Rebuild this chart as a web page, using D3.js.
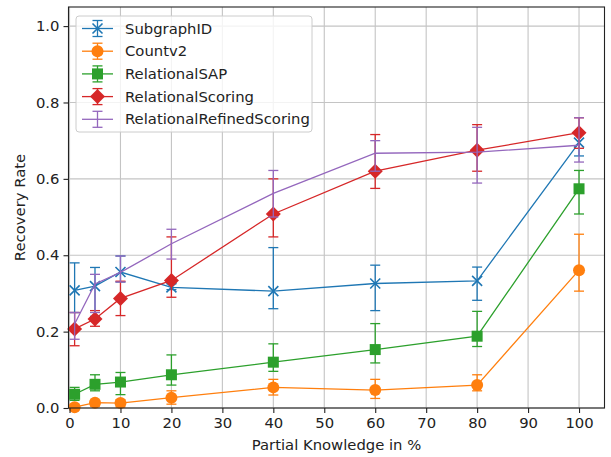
<!DOCTYPE html>
<html><head><meta charset="utf-8">
<script src="https://cdn.jsdelivr.net/npm/d3@7"></script>
<style>body{margin:0;background:#fff}svg{display:block}text{font-family:"DejaVu Sans",sans-serif}</style>
</head><body>
<script>
const xValues = [1, 5, 10, 20, 40, 60, 80, 100];
const xTicks = [0, 10, 20, 30, 40, 50, 60, 70, 80, 90, 100];
const yTicks = [0, 0.2, 0.4, 0.6, 0.8, 1.0];

const subgraphMean = [0.308, 0.319, 0.356, 0.316, 0.306, 0.326, 0.333, 0.695];
const subgraphLo   = [0.250, 0.240, 0.330, 0.310, 0.260, 0.255, 0.282, 0.660];
const subgraphHi   = [0.380, 0.368, 0.398, 0.325, 0.420, 0.374, 0.369, 0.720];

const countMean = [0.002, 0.014, 0.013, 0.027, 0.054, 0.047, 0.060, 0.361];
const countLo   = [0.000, 0.005, 0.003, 0.010, 0.034, 0.025, 0.045, 0.306];
const countHi   = [0.010, 0.020, 0.022, 0.045, 0.075, 0.075, 0.087, 0.455];

const sapMean = [0.036, 0.062, 0.068, 0.087, 0.120, 0.153, 0.188, 0.574];
const sapLo   = [0.020, 0.045, 0.035, 0.060, 0.096, 0.118, 0.161, 0.508];
const sapHi   = [0.054, 0.087, 0.093, 0.139, 0.168, 0.221, 0.253, 0.622];

const scoringMean = [0.207, 0.233, 0.287, 0.334, 0.508, 0.620, 0.675, 0.721];
const scoringLo   = [0.163, 0.214, 0.242, 0.290, 0.448, 0.575, 0.620, 0.680];
const scoringHi   = [0.250, 0.255, 0.332, 0.448, 0.600, 0.716, 0.742, 0.760];

const refinedMean = [0.220, 0.325, 0.355, 0.430, 0.562, 0.667, 0.670, 0.688];
const refinedLo   = [0.180, 0.250, 0.330, 0.390, 0.500, 0.620, 0.589, 0.644];
const refinedHi   = [0.250, 0.350, 0.398, 0.468, 0.622, 0.700, 0.735, 0.760];

const seriesNames = ["SubgraphID", "Countv2", "RelationalSAP", "RelationalScoring", "RelationalRefinedScoring"];
const seriesColors = ["#1f77b4", "#ff7f0e", "#2ca02c", "#d62728", "#9467bd"];
const seriesMarkers = ["x", "circle", "square", "diamond", "none"];

const series = [
  {mean: subgraphMean, lo: subgraphLo, hi: subgraphHi},
  {mean: countMean, lo: countLo, hi: countHi},
  {mean: sapMean, lo: sapLo, hi: sapHi},
  {mean: scoringMean, lo: scoringLo, hi: scoringHi},
  {mean: refinedMean, lo: refinedLo, hi: refinedHi}
].map((s, i) => ({...s, name: seriesNames[i], color: seriesColors[i], marker: seriesMarkers[i]}));

const W = 611, H = 457;
const svg = d3.select("body").append("svg").attr("width", W).attr("height", H);
const x = d3.scaleLinear().domain([-0.2, 105]).range([68.5, 604.5]);
const y = d3.scaleLinear().domain([0, 1.05]).range([408, 7]);
const FS = 14.8;

// grid
const grid = svg.append("g");
grid.selectAll(".gx").data(xTicks).join("line")
  .attr("x1", d => x(d)).attr("x2", d => x(d)).attr("y1", y(0)).attr("y2", y(1.05))
  .attr("stroke", "#c4c4c4").attr("stroke-width", 1.1);
grid.selectAll(".gy").data(yTicks).join("line")
  .attr("x1", x(-0.2)).attr("x2", x(105)).attr("y1", d => y(d)).attr("y2", d => y(d))
  .attr("stroke", "#c4c4c4").attr("stroke-width", 1.1);

const plot = svg.append("g");
const CAP = 5;

function drawMarker(g, type, cx, cy, color) {
  if (type === "x") {
    const r = 5;
    g.append("path").attr("d", `M${cx-r},${cy-r}L${cx+r},${cy+r}M${cx-r},${cy+r}L${cx+r},${cy-r}`)
      .attr("stroke", color).attr("stroke-width", 1.6).attr("fill", "none");
  } else if (type === "circle") {
    g.append("circle").attr("cx", cx).attr("cy", cy).attr("r", 6).attr("fill", color);
  } else if (type === "square") {
    g.append("rect").attr("x", cx - 5.5).attr("y", cy - 5.5).attr("width", 11).attr("height", 11).attr("fill", color);
  } else if (type === "diamond") {
    const r = 7.5;
    g.append("path").attr("d", `M${cx},${cy-r}L${cx+r},${cy}L${cx},${cy+r}L${cx-r},${cy}Z`).attr("fill", color);
  }
}

const line = d3.line().x(d => x(d[0])).y(d => y(d[1]));
series.forEach(s => {
  const g = plot.append("g");
  const pts = xValues.map((xv, i) => [xv, s.mean[i]]);
  g.append("path").attr("d", line(pts)).attr("fill", "none").attr("stroke", s.color).attr("stroke-width", 1.3);
  xValues.forEach((xv, i) => {
    const cx = x(xv);
    g.append("line").attr("x1", cx).attr("x2", cx).attr("y1", y(s.lo[i])).attr("y2", y(s.hi[i]))
      .attr("stroke", s.color).attr("stroke-width", 1.3);
    [s.lo[i], s.hi[i]].forEach(v => {
      g.append("line").attr("x1", cx - CAP).attr("x2", cx + CAP).attr("y1", y(v)).attr("y2", y(v))
        .attr("stroke", s.color).attr("stroke-width", 1.3);
    });
  });
  xValues.forEach((xv, i) => drawMarker(g, s.marker, x(xv), y(s.mean[i]), s.color));
});

// spines
svg.append("rect").attr("x", x(-0.2)).attr("y", y(1.05)).attr("width", x(105) - x(-0.2)).attr("height", y(0) - y(1.05))
  .attr("fill", "none").attr("stroke", "#222").attr("stroke-width", 1.1);

// axes
const xAxis = d3.axisBottom(x).tickValues(xTicks).tickFormat(d3.format("d")).tickSize(5).tickPadding(4);
const gx = svg.append("g").attr("transform", `translate(0,${y(0)})`).call(xAxis);
const yAxis = d3.axisLeft(y).tickValues(yTicks).tickFormat(d3.format(".1f")).tickSize(5).tickPadding(4);
const gy = svg.append("g").attr("transform", `translate(${x(-0.2)},0)`).call(yAxis);
[gx, gy].forEach(g => {
  g.select(".domain").remove();
  g.selectAll("line").attr("stroke", "#222").attr("stroke-width", 1.1);
  g.selectAll("text").attr("font-size", FS).attr("fill", "#222").style("font-family", "DejaVu Sans");
});

svg.append("text").attr("x", (x(-0.2) + x(105)) / 2).attr("y", 450).attr("text-anchor", "middle")
  .attr("font-size", FS).attr("fill", "#222").text("Partial Knowledge in %");
svg.append("text").attr("transform", `translate(25,${(y(0) + y(1.05)) / 2}) rotate(-90)`).attr("text-anchor", "middle")
  .attr("font-size", FS).attr("fill", "#222").text("Recovery Rate");

// legend
const lg = svg.append("g");
lg.append("rect").attr("x", 76).attr("y", 16).attr("width", 236).attr("height", 116).attr("rx", 3)
  .attr("fill", "white").attr("fill-opacity", 0.8).attr("stroke", "#cccccc").attr("stroke-width", 1);
series.forEach((s, i) => {
  const cy = 28.5 + i * 22.7;
  const row = lg.append("g");
  row.append("line").attr("x1", 82).attr("x2", 113).attr("y1", cy).attr("y2", cy).attr("stroke", s.color).attr("stroke-width", 1.3);
  row.append("line").attr("x1", 97.5).attr("x2", 97.5).attr("y1", cy - 8).attr("y2", cy + 8).attr("stroke", s.color).attr("stroke-width", 1.3);
  [cy - 8, cy + 8].forEach(v => row.append("line").attr("x1", 92.5).attr("x2", 102.5).attr("y1", v).attr("y2", v).attr("stroke", s.color).attr("stroke-width", 1.3));
  drawMarker(row, s.marker, 97.5, cy, s.color);
  row.append("text").attr("x", 125).attr("y", cy).attr("dy", "0.35em").attr("font-size", FS).attr("fill", "#222").text(s.name);
});
</script>
</body></html>
